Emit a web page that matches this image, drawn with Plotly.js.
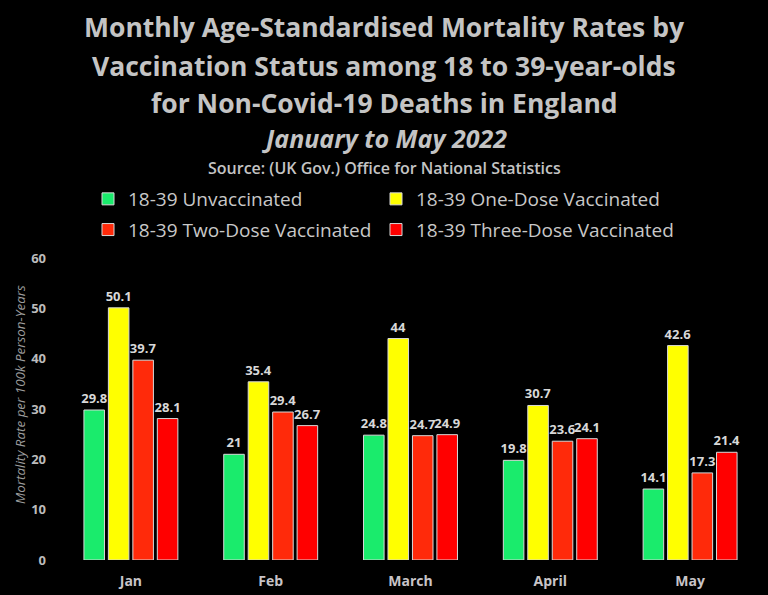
<!DOCTYPE html>
<html>
<head>
<meta charset="utf-8">
<script src="https://cdn.plot.ly/plotly-3.0.1.min.js"></script>
<style>
  html, body { margin: 0; padding: 0; background: #000; }
  #chart { width: 768px; height: 595px; }
</style>
</head>
<body>
<div id="chart"></div>
<script>
// Monthly age-standardised mortality rates, 18-39, non-Covid deaths (ONS)
const months = ['Jan', 'Feb', 'March', 'April', 'May'];
const unvaccinated = [29.8, 21, 24.8, 19.8, 14.1];
const one_dose = [50.1, 35.4, 44, 30.7, 42.6];
const two_dose = [39.7, 29.4, 24.7, 23.6, 17.3];
const three_dose = [28.1, 26.7, 24.9, 24.1, 21.4];
const y_ticks = [0, 10, 20, 30, 40, 50, 60];

const series_names = [
    '18-39 Unvaccinated',
    '18-39 One-Dose Vaccinated',
    '18-39 Two-Dose Vaccinated',
    '18-39 Three-Dose Vaccinated'
];
const series_colors = ['#1aeb6c', '#ffff00', '#ff2a0a', '#ff0000'];
// left legend column holds series 0 and 2, right column 1 and 3
const legend_ids = ['legend', 'legend2', 'legend', 'legend2'];

const make_trace = function (name, values, color, legend_id, i) {
    return {
        type: 'bar',
        name: name,
        x: months,
        y: values,
        legend: legend_id,
        legendgroup: 'g' + i,
        text: values.map(String),
        textposition: 'outside',
        constraintext: 'none',
        cliponaxis: false,
        textfont: { family: 'Open Sans', size: 13, color: '#d8d8d8', weight: 'bold' },
        marker: { color: color, line: { color: '#d8d8d8', width: 1 } },
        hoverinfo: 'x+y+name'
    };
};

const data = [unvaccinated, one_dose, two_dose, three_dose].map((vals, i) => {
    return make_trace(series_names[i], vals, series_colors[i], legend_ids[i], i);
});

// page centre in paper coords (plot area runs from 61 to 760 px)
const page_mid = (384 - 61) / 699;
const px_x = p => (p - 61) / 699;
const py = p => 1 + (258 - p) / 302;

const title_font = { family: 'Open Sans', size: 26.5, color: '#c4c4c4', weight: 'bold' };
const legend_base = {
    orientation: 'v',
    xanchor: 'left',
    y: py(180),
    yanchor: 'top',
    itemwidth: 30,
    tracegroupgap: 3,
    font: { family: 'Open Sans', size: 19, color: '#c8c8c8' },
    bgcolor: 'rgba(0,0,0,0)'
};

const layout = {
    width: 768,
    height: 595,
    paper_bgcolor: '#000000',
    plot_bgcolor: '#000000',
    margin: { l: 61, r: 8, t: 258, b: 35 },
    barmode: 'group',
    bargap: 0.3,
    bargroupgap: 0.16,
    showlegend: true,
    legend: Object.assign({}, legend_base, { x: px_x(88) }),
    legend2: Object.assign({}, legend_base, { x: px_x(376) }),
    xaxis: {
        tickfont: { family: 'Open Sans', size: 14, color: '#c8c4c8', weight: 'bold' },
        showgrid: false,
        zeroline: false,
        showline: false,
        ticks: '',
        ticklabelstandoff: 11
    },
    yaxis: {
        range: [0, 60],
        tickvals: y_ticks,
        tickfont: { family: 'Open Sans', size: 13, color: '#bcbcbc', weight: 'bold' },
        showgrid: false,
        zeroline: false,
        showline: false,
        ticks: '',
        ticklabelstandoff: 14
    },
    annotations: [
        { text: 'Monthly Age-Standardised Mortality Rates by', y: 27 },
        { text: 'Vaccination Status among 18 to 39-year-olds', y: 66 },
        { text: 'for Non-Covid-19 Deaths in England', y: 103 }
    ].map(a => ({
        text: a.text, xref: 'paper', yref: 'paper', x: page_mid, xanchor: 'center',
        y: py(a.y), yanchor: 'middle', showarrow: false, font: title_font
    })).concat([
        {
            text: '<i>January to May 2022</i>', xref: 'paper', yref: 'paper',
            x: page_mid, xanchor: 'center', y: py(138), yanchor: 'middle',
            showarrow: false, font: { family: 'Open Sans', size: 25, color: '#c4c4c4', weight: 'bold' }
        },
        {
            text: 'Source: (UK Gov.) Office for National Statistics', xref: 'paper', yref: 'paper',
            x: page_mid, xanchor: 'center', y: py(168), yanchor: 'middle',
            showarrow: false, font: { family: 'Open Sans', size: 16, color: '#c4c4c4', weight: 600 }
        },
        {
            text: '<i>Mortality Rate per 100k Person-Years</i>', xref: 'paper', yref: 'paper',
            x: px_x(20), xanchor: 'center', y: (560 - 395) / 302, yanchor: 'middle',
            textangle: -90, showarrow: false,
            font: { family: 'Open Sans', size: 13.4, color: '#9c9c9c' }
        }
    ])
};

const config = { responsive: false, displaylogo: false, displayModeBar: false };

Plotly.newPlot('chart', data, layout, config);
</script>
</body>
</html>
